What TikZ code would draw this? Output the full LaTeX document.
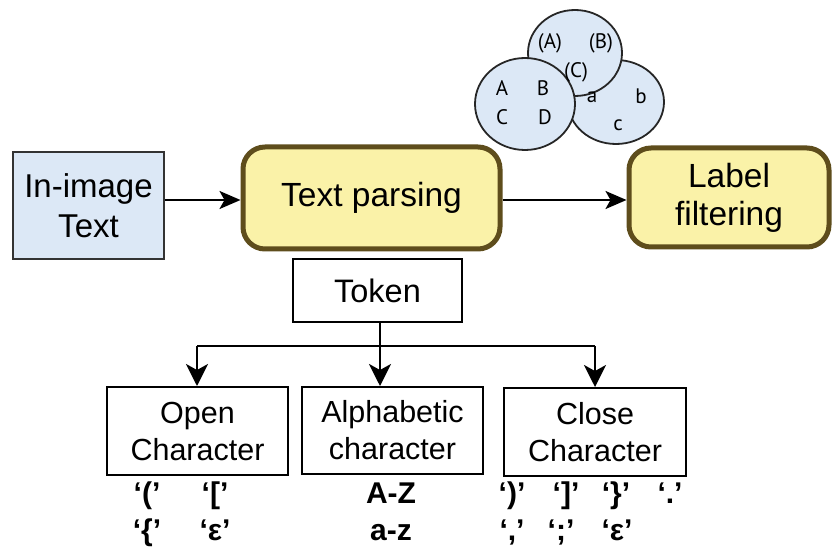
\documentclass[tikz,border=0pt]{standalone}
\usepackage{fontspec}
\setmainfont{Liberation Sans}
\newfontfamily\vennfont{PT Sans}
\usetikzlibrary{arrows.meta}
\definecolor{boxblue}{HTML}{DCE8F6}
\definecolor{boxyellow}{HTML}{FAF2A8}
\definecolor{boxolive}{HTML}{5E4D1C}
\definecolor{vennblue}{HTML}{DCE8F6}
\tikzset{
  bluebox/.style={draw=black!80, line width=2pt, fill=boxblue, inner sep=0pt,
    align=center, font=\fontsize{33}{40}\selectfont},
  yellowbox/.style={draw=boxolive, line width=5pt, fill=boxyellow, rounded corners=22pt,
    inner sep=0pt, align=center, font=\fontsize{33.5}{38}\selectfont},
  plainbox/.style={draw=black, line width=2pt, fill=white, inner sep=0pt,
    align=center, font=\fontsize{30.5}{37}\selectfont},
  conn/.style={line width=2.2pt, -{Stealth[length=21pt,width=18pt,inset=5pt]}},
  connv/.style={line width=2.2pt, -{Stealth[length=22pt,width=22pt,inset=6pt]}},
  plainline/.style={line width=2.2pt},
  vennc/.style={draw=black!85, line width=1.8pt, fill=vennblue},
  venntext/.style={font=\vennfont\fontsize{21}{21}\selectfont, inner sep=0pt},
  charlab/.style={font=\bfseries\fontsize{30}{30}\selectfont, inner sep=0pt, anchor=base},
}
\begin{document}
\begin{tikzpicture}[x=1pt,y=-1pt]
\useasboundingbox (0,0) rectangle (833,548);
% Venn circles
\draw[vennc] (616,102) ellipse [x radius=48, y radius=42];
\draw[vennc] (575,53) ellipse [x radius=47, y radius=43];
\draw[vennc] (525,104) ellipse [x radius=50, y radius=46];
\node[venntext] (vA) at (550,43) {(A)};
\node[venntext] (vB) at (601,43) {(B)};
\node[venntext] (vC) at (576,72) {(C)};
\node[venntext] (lA) at (502,88) {A};
\node[venntext] (lB) at (543,88) {B};
\node[venntext] (lC) at (502,117) {C};
\node[venntext] (lD) at (545,117) {D};
\node[venntext] (ra) at (592,97) {a};
\node[venntext] (rb) at (641,96) {b};
\node[venntext] (rc) at (618,125) {c};
% main boxes
\node[bluebox, minimum width=151pt, minimum height=107pt] (inimg) at (88.5,205.5) {In-image\\Text};
\node[yellowbox, minimum width=257pt, minimum height=102pt] (parse) at (371.5,198) {Text parsing};
\node[yellowbox, minimum width=200pt, minimum height=99pt] (filter) at (729,197.5) {Label\\filtering};
\node[plainbox, minimum width=169pt, minimum height=63pt, font=\fontsize{32.5}{37}\selectfont] (token) at (377.5,290.5) {Token};
\node[plainbox, minimum width=181pt, minimum height=88pt] (open) at (197.5,431) {Open\\Character};
\node[plainbox, minimum width=181pt, minimum height=87pt] (alpha) at (392.5,430.5) {Alphabetic\\character};
\node[plainbox, minimum width=182pt, minimum height=88pt] (close) at (595,432) {Close\\Character};
% connectors
\draw[conn] (inimg.east |- 0,200) -- (parse.west |- 0,200);
\draw[conn] (parse.east |- 0,200) -- (filter.west |- 0,200);
\coordinate (split) at (380,346);
\coordinate (splitL) at (197,346);
\coordinate (splitR) at (595,346);
\draw[plainline] (token.south -| split) -- (split);
\draw[plainline] (splitL) -- (splitR);
\draw[connv] (splitL) -- (open.north -| splitL);
\draw[connv] (split) -- (alpha.north -| split);
\draw[connv] (splitR) -- (close.north -| splitR);
% character labels
\node[charlab] (o1) at (147,503) {‘(’};
\node[charlab] (o2) at (215,503) {‘[’};
\node[charlab] (o3) at (147,540) {‘\{’};
\node[charlab] (o4) at (215,540) {‘ε’};
\node[charlab] (a1) at (391,503) {A-Z};
\node[charlab] (a2) at (391,540) {a-z};
\node[charlab] (c1) at (512,503) {‘)’};
\node[charlab] (c2) at (566,503) {‘]’};
\node[charlab] (c3) at (616,503) {‘\}’};
\node[charlab] (c4) at (670,503) {‘.’};
\node[charlab] (c5) at (512,540) {‘,’};
\node[charlab] (c6) at (561,540) {‘;’};
\node[charlab] (c7) at (617,540) {‘ε’};
\end{tikzpicture}
\end{document}
